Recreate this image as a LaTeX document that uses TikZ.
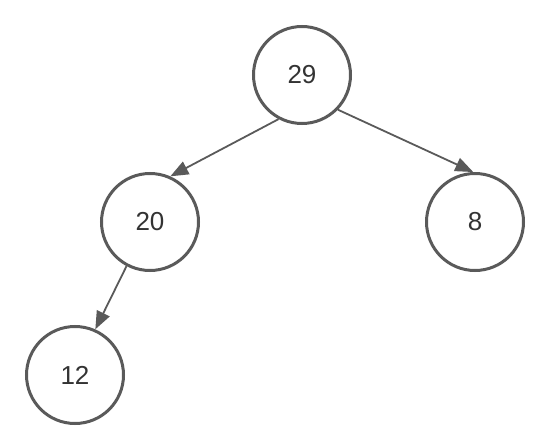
\documentclass[tikz,border=0pt]{standalone}
\usepackage{fontspec}
\setmainfont{Liberation Sans}
\usetikzlibrary{arrows.meta}
\definecolor{edgegray}{HTML}{5A5A5A}
\definecolor{textgray}{HTML}{333333}
\begin{document}
\begin{tikzpicture}[x=1pt,y=-1pt,
  treenode/.style={circle,draw=edgegray,line width=3pt,minimum size=97pt,inner sep=0pt,
    text=textgray,font=\fontsize{26}{30}\selectfont},
  link/.style={draw=edgegray,line width=1.8pt,-{Triangle[length=18pt,width=14pt]}}]
\useasboundingbox (0,0) rectangle (547,436);
\node[treenode] (n29) at (302,75) {29};
\node[treenode] (n20) at (150,222) {20};
\node[treenode] (n8) at (475,222) {8};
\node[treenode] (n12) at (75,375) {12};
\draw[link] (n29.242) -- (n20.66);
\draw[link] (n29.-44) -- (n8.92);
\draw[link] (n20.242) -- (n12.66);
\end{tikzpicture}
\end{document}
